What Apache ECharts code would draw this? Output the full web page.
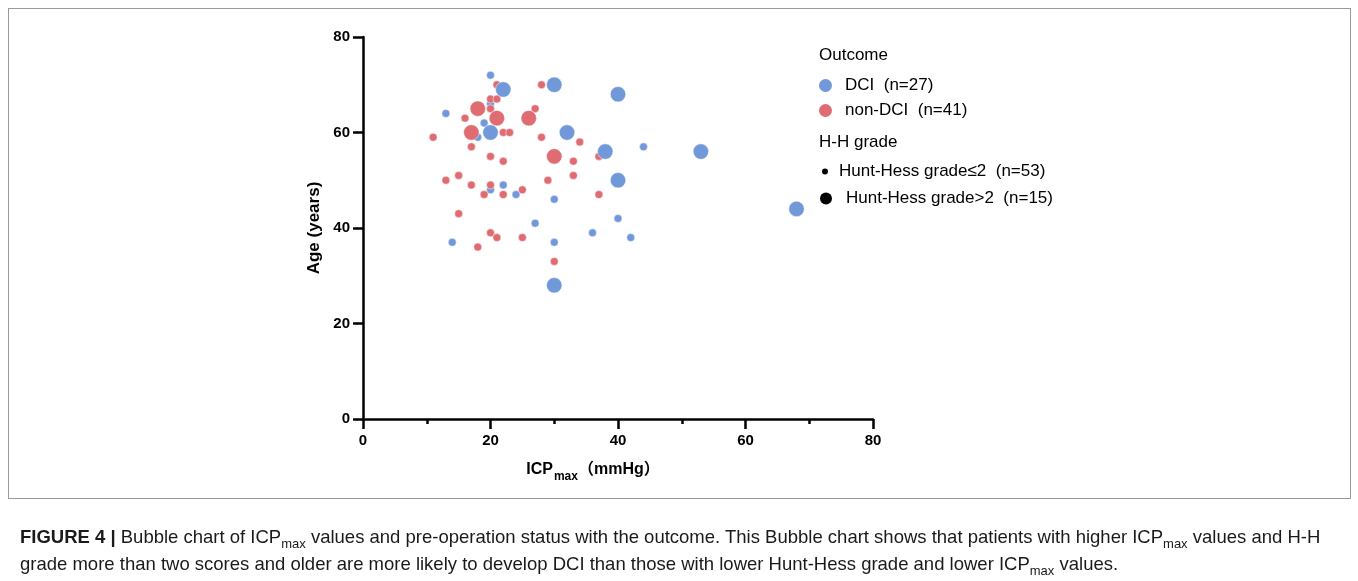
<!DOCTYPE html>
<html>
<head>
<meta charset="utf-8">
<title>Bubble chart of ICPmax and age</title>
<script src="https://cdn.jsdelivr.net/npm/echarts@6/dist/echarts.min.js"></script>
<style>
  html, body {
    margin: 0;
    padding: 0;
    background: #ffffff;
  }

  .figure {
    position: relative;
    width: 1358px;
    height: 581px;
    overflow: hidden;
  }

  .frame {
    position: absolute;
    left: 8px;
    top: 8px;
    width: 1341px;
    height: 489px;
    border: 1px solid #9a9a9a;
  }

  #chart {
    position: absolute;
    left: 0;
    top: 0;
    width: 1358px;
    height: 581px;
  }

  .caption {
    position: absolute;
    left: 20px;
    top: 523px;
    width: 1330px;
    color: #1a1a1a;
    font-family: 'Liberation Sans', Arial, sans-serif;
    font-size: 18.5px;
    line-height: 27px;
    white-space: nowrap;
  }

  .caption sub {
    font-size: 13px;
    line-height: 0;
  }
</style>
</head>
<body>
<div class="figure">
  <div class="frame"></div>
  <div id="chart"></div>
  <div class="caption">
    <b>FIGURE 4 |</b> Bubble chart of ICP<sub>max</sub> values and pre-operation status with the outcome. This Bubble chart shows that patients with higher ICP<sub>max</sub> values and H-H<br>grade more than two scores and older are more likely to develop DCI than those with lower Hunt-Hess grade and lower ICP<sub>max</sub> values.
  </div>
</div>

<script>
// [ICPmax (mmHg), age (years)]
const dciLowGrade = [
  [20, 72], [20, 66], [13, 64], [19, 62], [18, 59], [44, 57], [20, 48], [22, 49],
  [24, 47], [30, 46], [27, 41], [40, 42], [36, 39], [42, 38], [14, 37], [30, 37]
]
const dciHighGrade = [
  [22, 69], [30, 70], [40, 68], [20, 60], [32, 60], [38, 56], [53, 56], [40, 50],
  [68, 44], [30, 28]
]
const nonDciLowGrade = [
  [21, 70], [28, 70], [20, 67], [21, 67], [20, 65], [27, 65], [16, 63], [22, 60],
  [23, 60], [11, 59], [28, 59], [34, 58], [17, 57], [37, 55], [20, 55], [22, 54],
  [33, 54], [33, 51], [15, 51], [29, 50], [13, 50], [17, 49], [20, 49], [25, 48],
  [19, 47], [22, 47], [37, 47], [15, 43], [20, 39], [21, 38], [25, 38], [18, 36],
  [30, 33]
]
const nonDciHighGrade = [
  [18, 65], [21, 63], [26, 63], [17, 60], [30, 55]
]

const xTicks = [0, 20, 40, 60, 80]
const yTicks = [0, 20, 40, 60, 80]

const outcomeNames = ['DCI  (n=27)', 'non-DCI  (n=41)']
const gradeNames = ['Hunt-Hess grade≤2  (n=53)', 'Hunt-Hess grade>2  (n=15)']

const DCI_COLOR = '#7199d9'
const NON_DCI_COLOR = '#df6b73'
const FONT = "'Liberation Sans', Arial, 'Noto Sans CJK SC', sans-serif"
const SMALL_SIZE = 8
const LARGE_SIZE = 15.5

const chart = echarts.init(document.getElementById('chart'))

function bubbleSeries(name, data, color, size, border) {
  return {
    name: name,
    type: 'scatter',
    data: data,
    symbol: 'circle',
    symbolSize: size,
    itemStyle: {
      color: color,
      opacity: 1,
      borderColor: '#ffffff',
      borderWidth: border
    },
    emphasis: { disabled: true }
  }
}

function legendRow(name, top, left, size, gap) {
  return {
    data: [{ name: name, icon: 'circle' }],
    left: left,
    top: top,
    padding: 0,
    itemWidth: size,
    itemHeight: size,
    selectedMode: false,
    itemStyle: { borderWidth: 0 },
    textStyle: {
      color: '#000000',
      fontFamily: FONT,
      fontSize: 17,
      padding: [0, 0, 0, gap]
    }
  }
}

const axisLineStyle = { color: '#000000', width: 2.5 }

chart.setOption({
  animation: false,
  textStyle: { fontFamily: FONT },
  grid: {
    left: 363,
    right: 485,
    top: 37,
    bottom: 162
  },
  title: [
    {
      text: 'Outcome',
      left: 819,
      top: 47,
      padding: 0,
      textStyle: { color: '#000000', fontSize: 17, fontWeight: 'normal', fontFamily: FONT }
    },
    {
      text: 'H-H grade',
      left: 819,
      top: 134,
      padding: 0,
      textStyle: { color: '#000000', fontSize: 17, fontWeight: 'normal', fontFamily: FONT }
    }
  ],
  legend: [
    legendRow(outcomeNames[0], 77, 819, 13, 8),
    legendRow(outcomeNames[1], 102, 819, 13, 8),
    legendRow(gradeNames[0], 163, 822, 6, 6),
    legendRow(gradeNames[1], 190, 820, 12, 9)
  ],
  xAxis: {
    type: 'value',
    min: xTicks[0],
    max: xTicks[xTicks.length - 1],
    interval: xTicks[1] - xTicks[0],
    name: '{b|ICP}{s|max}{b|（mmHg）}',
    nameLocation: 'middle',
    nameGap: 38,
    nameTextStyle: {
      padding: [0, 50, 0, 0],
      rich: {
        b: { fontSize: 16, fontWeight: 'bold', color: '#000000', fontFamily: FONT },
        s: { fontSize: 12, fontWeight: 'bold', color: '#000000', fontFamily: FONT, padding: [14, 0, 0, 1] }
      }
    },
    axisLine: { onZero: false, lineStyle: axisLineStyle },
    axisTick: { show: true, length: 10, lineStyle: axisLineStyle },
    minorTick: { show: true, splitNumber: 2, length: 5, lineStyle: axisLineStyle },
    splitLine: { show: false },
    minorSplitLine: { show: false },
    axisLabel: {
      color: '#000000',
      fontSize: 15,
      fontWeight: 'bold',
      fontFamily: FONT,
      margin: 14
    }
  },
  yAxis: {
    type: 'value',
    min: yTicks[0],
    max: yTicks[yTicks.length - 1],
    interval: yTicks[1] - yTicks[0],
    name: 'Age (years)',
    nameLocation: 'middle',
    nameGap: 40,
    nameTextStyle: {
      color: '#000000',
      fontSize: 17,
      fontWeight: 'bold',
      fontFamily: FONT
    },
    axisLine: { onZero: false, lineStyle: axisLineStyle },
    axisTick: { show: true, length: 10, lineStyle: axisLineStyle },
    splitLine: { show: false },
    axisLabel: {
      color: '#000000',
      fontSize: 15,
      fontWeight: 'bold',
      fontFamily: FONT,
      margin: 13
    }
  },
  series: [
    bubbleSeries(outcomeNames[0], dciLowGrade, DCI_COLOR, SMALL_SIZE, 0.5),
    bubbleSeries(outcomeNames[1], nonDciLowGrade, NON_DCI_COLOR, SMALL_SIZE, 0.5),
    bubbleSeries(outcomeNames[1], nonDciHighGrade, NON_DCI_COLOR, LARGE_SIZE, 0.5),
    bubbleSeries(outcomeNames[0], dciHighGrade, DCI_COLOR, LARGE_SIZE, 0.5),
    // legend-only entries for the size key
    bubbleSeries(gradeNames[0], [], '#000000', SMALL_SIZE, 0),
    bubbleSeries(gradeNames[1], [], '#000000', LARGE_SIZE, 0)
  ]
})
</script>
</body>
</html>
